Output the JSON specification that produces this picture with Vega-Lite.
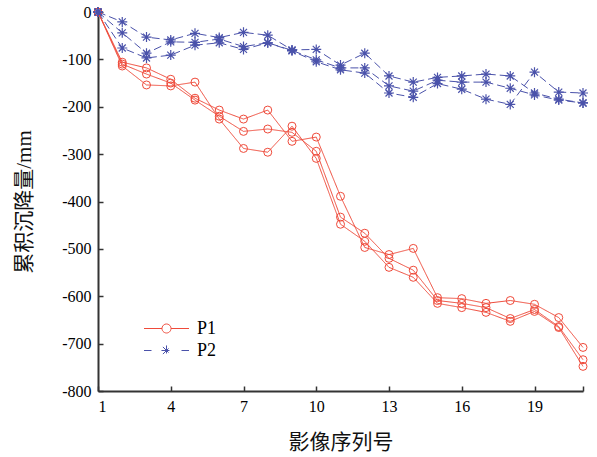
{
  "$schema": "https://vega.github.io/schema/vega-lite/v6.json",
  "autosize": {"type": "none"},
  "width": 485,
  "height": 379,
  "padding": {"left": 98, "top": 12, "right": 14, "bottom": 66},
  "background": "#ffffff",
  "data": {"values": [
    {"s":"P1a","g":"P1","x":1,"v":0},{"s":"P1a","g":"P1","x":2,"v":-106},{"s":"P1a","g":"P1","x":3,"v":-118},{"s":"P1a","g":"P1","x":4,"v":-142},{"s":"P1a","g":"P1","x":5,"v":-182},{"s":"P1a","g":"P1","x":6,"v":-207},{"s":"P1a","g":"P1","x":7,"v":-226},{"s":"P1a","g":"P1","x":8,"v":-207},{"s":"P1a","g":"P1","x":9,"v":-273},{"s":"P1a","g":"P1","x":10,"v":-264},{"s":"P1a","g":"P1","x":11,"v":-389},{"s":"P1a","g":"P1","x":12,"v":-497},{"s":"P1a","g":"P1","x":13,"v":-512},{"s":"P1a","g":"P1","x":14,"v":-499},{"s":"P1a","g":"P1","x":15,"v":-603},{"s":"P1a","g":"P1","x":16,"v":-605},{"s":"P1a","g":"P1","x":17,"v":-615},{"s":"P1a","g":"P1","x":18,"v":-609},{"s":"P1a","g":"P1","x":19,"v":-617},{"s":"P1a","g":"P1","x":20,"v":-645},{"s":"P1a","g":"P1","x":21,"v":-708},
    {"s":"P1b","g":"P1","x":1,"v":0},{"s":"P1b","g":"P1","x":2,"v":-110},{"s":"P1b","g":"P1","x":3,"v":-131},{"s":"P1b","g":"P1","x":4,"v":-150},{"s":"P1b","g":"P1","x":5,"v":-186},{"s":"P1b","g":"P1","x":6,"v":-220},{"s":"P1b","g":"P1","x":7,"v":-252},{"s":"P1b","g":"P1","x":8,"v":-247},{"s":"P1b","g":"P1","x":9,"v":-254},{"s":"P1b","g":"P1","x":10,"v":-294},{"s":"P1b","g":"P1","x":11,"v":-433},{"s":"P1b","g":"P1","x":12,"v":-467},{"s":"P1b","g":"P1","x":13,"v":-520},{"s":"P1b","g":"P1","x":14,"v":-545},{"s":"P1b","g":"P1","x":15,"v":-609},{"s":"P1b","g":"P1","x":16,"v":-615},{"s":"P1b","g":"P1","x":17,"v":-624},{"s":"P1b","g":"P1","x":18,"v":-647},{"s":"P1b","g":"P1","x":19,"v":-628},{"s":"P1b","g":"P1","x":20,"v":-664},{"s":"P1b","g":"P1","x":21,"v":-734},
    {"s":"P1c","g":"P1","x":1,"v":0},{"s":"P1c","g":"P1","x":2,"v":-114},{"s":"P1c","g":"P1","x":3,"v":-154},{"s":"P1c","g":"P1","x":4,"v":-156},{"s":"P1c","g":"P1","x":5,"v":-148},{"s":"P1c","g":"P1","x":6,"v":-226},{"s":"P1c","g":"P1","x":7,"v":-288},{"s":"P1c","g":"P1","x":8,"v":-296},{"s":"P1c","g":"P1","x":9,"v":-241},{"s":"P1c","g":"P1","x":10,"v":-309},{"s":"P1c","g":"P1","x":11,"v":-448},{"s":"P1c","g":"P1","x":12,"v":-484},{"s":"P1c","g":"P1","x":13,"v":-539},{"s":"P1c","g":"P1","x":14,"v":-560},{"s":"P1c","g":"P1","x":15,"v":-615},{"s":"P1c","g":"P1","x":16,"v":-624},{"s":"P1c","g":"P1","x":17,"v":-634},{"s":"P1c","g":"P1","x":18,"v":-653},{"s":"P1c","g":"P1","x":19,"v":-632},{"s":"P1c","g":"P1","x":20,"v":-666},{"s":"P1c","g":"P1","x":21,"v":-748},
    {"s":"P2a","g":"P2","x":1,"v":0},{"s":"P2a","g":"P2","x":2,"v":-21},{"s":"P2a","g":"P2","x":3,"v":-53},{"s":"P2a","g":"P2","x":4,"v":-59},{"s":"P2a","g":"P2","x":5,"v":-45},{"s":"P2a","g":"P2","x":6,"v":-54},{"s":"P2a","g":"P2","x":7,"v":-43},{"s":"P2a","g":"P2","x":8,"v":-49},{"s":"P2a","g":"P2","x":9,"v":-80},{"s":"P2a","g":"P2","x":10,"v":-79},{"s":"P2a","g":"P2","x":11,"v":-112},{"s":"P2a","g":"P2","x":12,"v":-87},{"s":"P2a","g":"P2","x":13,"v":-135},{"s":"P2a","g":"P2","x":14,"v":-148},{"s":"P2a","g":"P2","x":15,"v":-138},{"s":"P2a","g":"P2","x":16,"v":-135},{"s":"P2a","g":"P2","x":17,"v":-131},{"s":"P2a","g":"P2","x":18,"v":-135},{"s":"P2a","g":"P2","x":19,"v":-171},{"s":"P2a","g":"P2","x":20,"v":-184},{"s":"P2a","g":"P2","x":21,"v":-192},
    {"s":"P2b","g":"P2","x":1,"v":0},{"s":"P2b","g":"P2","x":2,"v":-44},{"s":"P2b","g":"P2","x":3,"v":-87},{"s":"P2b","g":"P2","x":4,"v":-63},{"s":"P2b","g":"P2","x":5,"v":-64},{"s":"P2b","g":"P2","x":6,"v":-57},{"s":"P2b","g":"P2","x":7,"v":-73},{"s":"P2b","g":"P2","x":8,"v":-65},{"s":"P2b","g":"P2","x":9,"v":-81},{"s":"P2b","g":"P2","x":10,"v":-101},{"s":"P2b","g":"P2","x":11,"v":-118},{"s":"P2b","g":"P2","x":12,"v":-118},{"s":"P2b","g":"P2","x":13,"v":-156},{"s":"P2b","g":"P2","x":14,"v":-167},{"s":"P2b","g":"P2","x":15,"v":-144},{"s":"P2b","g":"P2","x":16,"v":-148},{"s":"P2b","g":"P2","x":17,"v":-148},{"s":"P2b","g":"P2","x":18,"v":-161},{"s":"P2b","g":"P2","x":19,"v":-175},{"s":"P2b","g":"P2","x":20,"v":-186},{"s":"P2b","g":"P2","x":21,"v":-192},
    {"s":"P2c","g":"P2","x":1,"v":0},{"s":"P2c","g":"P2","x":2,"v":-76},{"s":"P2c","g":"P2","x":3,"v":-97},{"s":"P2c","g":"P2","x":4,"v":-91},{"s":"P2c","g":"P2","x":5,"v":-70},{"s":"P2c","g":"P2","x":6,"v":-65},{"s":"P2c","g":"P2","x":7,"v":-79},{"s":"P2c","g":"P2","x":8,"v":-65},{"s":"P2c","g":"P2","x":9,"v":-82},{"s":"P2c","g":"P2","x":10,"v":-105},{"s":"P2c","g":"P2","x":11,"v":-122},{"s":"P2c","g":"P2","x":12,"v":-129},{"s":"P2c","g":"P2","x":13,"v":-171},{"s":"P2c","g":"P2","x":14,"v":-180},{"s":"P2c","g":"P2","x":15,"v":-151},{"s":"P2c","g":"P2","x":16,"v":-163},{"s":"P2c","g":"P2","x":17,"v":-184},{"s":"P2c","g":"P2","x":18,"v":-195},{"s":"P2c","g":"P2","x":19,"v":-127},{"s":"P2c","g":"P2","x":20,"v":-169},{"s":"P2c","g":"P2","x":21,"v":-171}
  ]},
  "encoding": {
    "x": {"field": "x", "type": "quantitative",
      "scale": {"domain": [1, 21], "nice": false, "zero": false},
      "axis": {"title": "影像序列号", "values": [1,4,7,10,13,16,19,21],
        "labelExpr": "datum.value == 21 ? '' : datum.label",
        "tickSize": -5, "labelPadding": 12, "titlePadding": 17}},
    "y": {"field": "v", "type": "quantitative",
      "scale": {"domain": [-800, 0], "nice": false},
      "axis": {"title": "累积沉降量/mm", "values": [0,-100,-200,-300,-400,-500,-600,-700,-800],
        "labelExpr": "datum.value == 0 ? '0' : '-' + format(-datum.value, 'd')",
        "tickSize": -5, "labelPadding": 12, "titlePadding": 27}}
  },
  "layer": [
    {
      "mark": {"type": "line", "strokeWidth": 1},
      "encoding": {
        "detail": {"field": "s"},
        "color": {"field": "g", "type": "nominal",
          "scale": {"domain": ["P1","P2"], "range": ["#ef4a3a", "#4a52aa"]},
          "legend": {"title": null, "orient": "none", "legendX": 56, "legendY": 304,
            "symbolSize": 576, "symbolStrokeWidth": 1, "symbolFillColor": "transparent",
            "labelFont": "Liberation Serif, Times New Roman, serif", "labelFontSize": 18, "labelColor": "#000",
            "labelOffset": 18, "rowPadding": 0, "padding": 0,
            "encode": {"symbols": {"update": {"shape": {"signal": "datum.value == 'P1' ? 'M-1.875,0L-0.375,0M0.375,0L1.875,0M-0.375,0A0.375,0.375 0 1,0 0.375,0A0.375,0.375 0 1,0 -0.375,0' : 'M-1.875,0L-1.25,0M1.25,0L1.875,0M0,-0.42L0,0.42M-0.42,0L0.42,0M-0.3,-0.3L0.3,0.3M-0.3,0.3L0.3,-0.3'"}, "strokeDash": {"value": [1, 0]}}}}}},
        "strokeDash": {"field": "g", "type": "nominal",
          "scale": {"domain": ["P1","P2"], "range": [[1,0],[8,4]]}, "legend": null}
      }
    },
    {
      "transform": [{"filter": "datum.g == 'P1'"}],
      "mark": {"type": "point", "shape": "circle", "size": 64, "filled": false, "strokeWidth": 1, "opacity": 1},
      "encoding": {
        "detail": {"field": "s"},
        "color": {"field": "g", "type": "nominal", "legend": null}
      }
    },
    {
      "transform": [{"filter": "datum.g == 'P2'"}],
      "mark": {"type": "point", "shape": "M0,-1L0,1M-1,0L1,0M-0.7,-0.7L0.7,0.7M-0.7,0.7L0.7,-0.7", "size": 100, "filled": false, "strokeWidth": 1.2, "opacity": 1},
      "encoding": {
        "detail": {"field": "s"},
        "color": {"field": "g", "type": "nominal", "legend": null}
      }
    }
  ],
  "config": {
    "view": {"stroke": null},
    "axis": {"grid": false, "domainColor": "#333333", "domainWidth": 2, "tickColor": "#333333", "tickWidth": 1.5,
      "labelFont": "Liberation Serif, Times New Roman, serif", "labelFontSize": 16, "labelColor": "#000000",
      "titleFont": "Liberation Serif, Noto Sans CJK SC", "titleFontSize": 21, "titleFontWeight": "normal", "titleColor": "#111111"}
  }
}
